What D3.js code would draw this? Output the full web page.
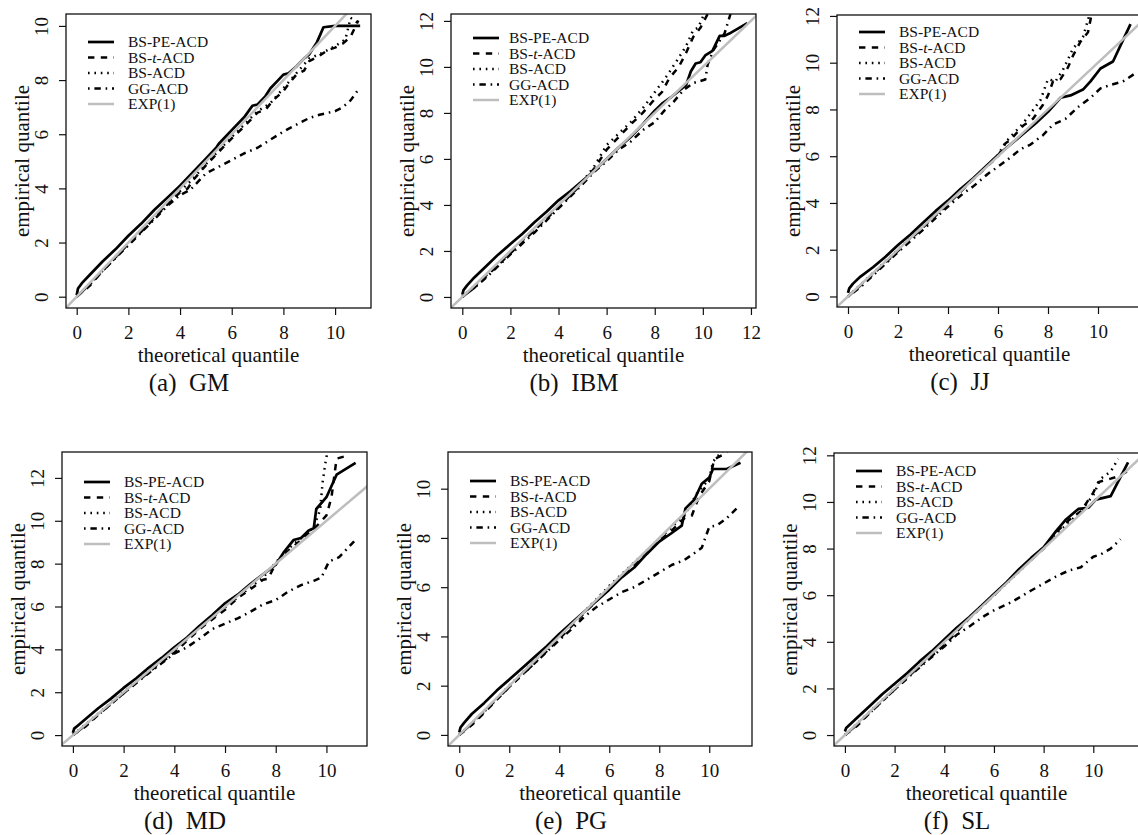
<!DOCTYPE html>
<html>
<head>
<meta charset="utf-8">
<script src="https://cdn.jsdelivr.net/npm/d3@7"></script>
<style>
  html, body { margin: 0; padding: 0; background: #fff; }
  svg text { font-family: "Liberation Serif", "Times New Roman", serif; fill: #111; }
</style>
</head>
<body>
<svg id="fig" width="1138" height="835"></svg>
<script>
// Series names shown in each legend
const seriesNames = ["BS-PE-ACD", "BS-t-ACD", "BS-ACD", "GG-ACD", "EXP(1)"];
const panelLetters = ["a", "b", "c", "d", "e", "f"];
const panelStocks = ["GM", "IBM", "JJ", "MD", "PG", "SL"];

// Tick values
const ticks10 = [0, 2, 4, 6, 8, 10];
const ticks12 = [0, 2, 4, 6, 8, 10, 12];

// QQ points: [theoretical quantile, empirical quantile]
// GM
const gmBSPE = [[0,0.05],[0.05,0.3],[0.2,0.5],[0.5,0.8],[1,1.3],[1.5,1.75],[2,2.25],[2.5,2.7],[3,3.2],[3.5,3.65],[4,4.1],[4.5,4.6],[5,5.1],[5.4,5.5],[5.5,5.65],[6,6.15],[6.5,6.65],[6.8,7.05],[7,7.1],[7.3,7.4],[7.5,7.7],[7.8,8.0],[8,8.2],[8.2,8.25],[8.5,8.5],[8.8,8.8],[9,8.95],[9.3,9.4],[9.55,9.95],[10,10.0],[10.5,10.0],[10.97,10.0]];
const gmBST = [[0,0],[0.5,0.4],[1,0.95],[1.5,1.45],[2,1.95],[2.5,2.4],[3,2.9],[3.5,3.4],[4,3.85],[4.3,4.0],[4.5,4.3],[5,4.85],[5.5,5.35],[6,5.85],[6.5,6.3],[7,6.8],[7.3,6.9],[7.6,7.25],[8,7.6],[8.2,7.85],[8.5,8.2],[8.8,8.35],[9,8.7],[9.4,8.9],[9.7,9.1],[10,9.2],[10.3,9.35],[10.6,9.6],[10.9,10.2]];
const gmBSA = [[0,0],[0.5,0.45],[1,0.95],[2,1.95],[3,2.95],[4,3.9],[4.5,4.35],[5,4.9],[6,5.9],[7,6.85],[7.5,7.15],[8,7.7],[8.5,8.25],[9,8.8],[9.5,9.0],[10,9.25],[10.4,9.5],[10.6,10.3],[10.9,10.1]];
const gmGG = [[0,0],[0.5,0.45],[1,0.95],[2,1.9],[3,2.85],[3.5,3.35],[4,3.75],[4.4,3.95],[5,4.55],[5.5,4.8],[6,5.05],[6.5,5.3],[7,5.5],[7.5,5.8],[8,6.1],[8.3,6.25],[8.7,6.45],[9,6.6],[9.4,6.72],[10,6.85],[10.3,7.0],[10.6,7.25],[10.9,7.65]];
// IBM
const ibmBSPE = [[0,0.1],[0.05,0.3],[0.2,0.5],[0.5,0.85],[1,1.35],[1.5,1.85],[2,2.3],[2.5,2.75],[3,3.25],[3.5,3.7],[4,4.2],[4.5,4.6],[5,5.05],[5.5,5.5],[6,6.0],[6.5,6.5],[7,6.95],[7.5,7.5],[8,8.1],[8.3,8.4],[8.7,8.7],[9,8.95],[9.3,9.2],[9.5,9.8],[9.7,10.15],[9.9,10.2],[10.1,10.5],[10.4,10.7],[10.7,11.35],[10.9,11.35],[11.1,11.45],[11.85,11.9]];
const ibmBST = [[0,0],[0.5,0.4],[1,0.9],[2,1.9],[3,2.9],[4,3.9],[5,4.95],[5.5,5.6],[6,6.4],[6.5,6.95],[7,7.5],[7.5,8.0],[8,8.6],[8.3,8.9],[8.6,9.5],[9,10.0],[9.3,10.6],[9.6,11.3],[9.9,11.7],[10.2,12.3]];
const ibmBSA = [[0,0],[1,0.95],[2,1.95],[3,2.95],[4,3.95],[5,5.0],[5.5,5.7],[6,6.6],[6.5,7.1],[7,7.6],[7.5,8.2],[8,8.9],[8.5,9.6],[9,10.4],[9.3,10.9],[9.6,11.6],[9.8,11.7],[10.1,12.4]];
const ibmGG = [[0,0],[0.5,0.4],[1,0.85],[2,1.85],[3,2.8],[4,3.85],[5,4.9],[5.5,5.45],[6,5.9],[6.5,6.4],[7,6.75],[7.5,7.25],[8,7.6],[8.4,8.1],[8.8,8.5],[9.2,9.0],[9.6,9.3],[10.1,9.45],[10.2,10.1],[10.45,10.75],[10.9,11.45],[11.15,12.3]];
// JJ
const jjBSPE = [[0,0.15],[0.05,0.35],[0.2,0.55],[0.5,0.85],[1,1.25],[1.5,1.7],[2,2.2],[2.5,2.65],[3,3.15],[3.5,3.65],[4,4.1],[4.5,4.6],[5,5.05],[5.5,5.55],[6,6.05],[6.5,6.5],[7,6.95],[7.5,7.4],[8,7.9],[8.5,8.5],[8.9,8.6],[9.4,8.85],[9.7,9.2],[10.1,9.75],[10.6,10.05],[11.3,11.65]];
const jjBST = [[0,0],[1,0.95],[2,1.95],[3,2.95],[4,3.95],[5,5.0],[6,6.0],[6.3,6.55],[6.5,6.7],[7,7.3],[7.4,7.6],[7.8,8.2],[8.0,8.6],[8.2,9.2],[8.5,9.3],[8.8,9.8],[9.0,10.3],[9.3,10.9],[9.6,11.3],[9.75,12.1]];
const jjBSA = [[0,0],[1,1.0],[2,2.0],[3,3.0],[4,4.0],[5,5.0],[6,6.05],[6.3,6.6],[7,7.4],[7.7,8.4],[8.0,9.3],[8.3,9.2],[8.6,9.7],[9.0,10.6],[9.4,11.1],[9.7,12.2]];
const jjGG = [[0,0],[0.5,0.4],[1,0.9],[2,1.9],[3,2.85],[4,3.85],[4.6,4.4],[5,4.7],[5.6,5.25],[6,5.55],[6.5,5.95],[6.9,6.3],[7.3,6.5],[7.8,6.9],[8.2,7.35],[8.7,7.6],[9.2,8.1],[9.7,8.5],[10.1,8.9],[10.5,9.05],[11,9.2],[11.5,9.55]];
// MD
const mdBSPE = [[0,0.1],[0.05,0.3],[0.2,0.45],[0.5,0.75],[1,1.25],[1.5,1.7],[2,2.2],[2.5,2.65],[3,3.15],[3.5,3.6],[4,4.1],[4.5,4.55],[5,5.1],[5.5,5.6],[6,6.15],[6.5,6.55],[7,7.05],[7.5,7.5],[8,7.95],[8.3,8.5],[8.7,9.1],[9,9.2],[9.3,9.55],[9.5,9.65],[9.6,10.55],[10.0,11.1],[10.4,12.15],[11.15,12.7]];
const mdBST = [[0,0],[0.5,0.4],[1,0.95],[2,1.95],[3,2.95],[4,3.85],[5,4.95],[6,5.85],[6.5,6.4],[7,6.8],[7.5,7.25],[7.7,7.3],[8,8.0],[8.5,8.6],[9,9.1],[9.5,9.6],[10,10.25],[10.2,11.1],[10.3,12.0],[10.4,12.9],[10.7,13.0]];
const mdBSA = [[0,0],[1,1.0],[2,2.0],[3,3.0],[4,3.95],[5,5.0],[6,5.95],[7,6.9],[7.5,7.35],[8,8.05],[8.5,8.7],[9,9.2],[9.5,9.7],[9.75,10.5],[9.85,11.8],[9.96,12.7],[10.05,13.3]];
const mdGG = [[0,0],[0.5,0.45],[1,0.95],[2,1.95],[3,2.9],[4,3.8],[4.5,4.1],[5,4.5],[5.5,4.95],[6,5.2],[6.5,5.45],[7,5.75],[7.5,6.1],[8,6.3],[8.5,6.7],[9,7.0],[9.5,7.2],[9.8,7.35],[10.1,8.1],[10.5,8.3],[11.1,9.05]];
// PG
const pgBSPE = [[0,0.1],[0.05,0.3],[0.2,0.5],[0.5,0.85],[1,1.3],[1.5,1.8],[2,2.25],[2.5,2.7],[3,3.15],[3.5,3.6],[4,4.1],[4.5,4.55],[5,5.0],[5.5,5.45],[6,5.9],[6.5,6.4],[7,6.8],[7.5,7.35],[8,7.85],[8.5,8.2],[8.9,8.5],[9.05,9.2],[9.4,9.55],[9.7,10.2],[10.0,10.45],[10.15,10.8],[10.7,10.8],[11.25,11.05]];
const pgBST = [[0,0],[0.5,0.4],[1,0.9],[2,1.95],[3,2.9],[4,3.9],[5,4.95],[6,5.95],[7,6.9],[8,7.9],[8.5,8.3],[9,8.8],[9.3,8.9],[9.6,9.7],[10,10.3],[10.2,11.2],[10.6,11.4],[10.8,11.6]];
const pgBSA = [[0,0],[1,0.95],[2,2.0],[3,3.0],[4,4.0],[5,5.0],[6,6.05],[7,7.0],[8,7.95],[8.5,8.45],[9,8.9],[9.5,9.8],[10,10.4],[10.15,11.1],[10.5,11.5],[10.7,11.6]];
const pgGG = [[0,0],[0.5,0.45],[1,0.95],[2,1.95],[3,2.9],[4,3.85],[4.5,4.3],[5,4.8],[5.5,5.2],[6,5.5],[6.5,5.8],[7,6.0],[7.5,6.3],[8,6.6],[8.5,6.9],[9,7.1],[9.5,7.45],[9.7,7.6],[10.0,8.45],[10.3,8.5],[10.7,8.8],[11.2,9.3]];
// SL
const slBSPE = [[0,0.15],[0.05,0.3],[0.2,0.45],[0.5,0.75],[1,1.25],[1.5,1.75],[2,2.2],[2.5,2.65],[3,3.15],[3.5,3.6],[4,4.1],[4.5,4.6],[5,5.05],[5.5,5.55],[6,6.05],[6.5,6.55],[7,7.1],[7.5,7.6],[8,8.05],[8.5,8.75],[8.9,9.25],[9.4,9.7],[9.8,9.75],[10.1,10.1],[10.7,10.25],[11.4,11.7]];
const slBST = [[0,0],[0.5,0.4],[1,0.95],[2,1.95],[3,2.95],[4,3.85],[5,5.0],[6,6.0],[7,7.05],[8,8.0],[8.5,8.7],[9,9.2],[9.5,9.6],[10,10.4],[10.2,10.85],[10.7,11.0],[11.0,11.1],[11.35,11.3]];
const slBSA = [[0,0],[1,1.0],[2,2.0],[3,3.0],[4,4.0],[5,5.0],[6,6.0],[7,7.0],[8,8.05],[8.5,8.6],[9,9.1],[9.5,9.6],[10,10.3],[10.3,11.0],[10.7,11.3],[11.0,11.85]];
const slGG = [[0,0],[0.5,0.45],[1,0.95],[2,1.95],[3,2.9],[4,3.8],[4.5,4.3],[5,4.65],[5.6,5.1],[6,5.35],[6.7,5.7],[7.5,6.2],[8,6.5],[8.5,6.8],[9,7.05],[9.5,7.2],[10,7.65],[10.3,7.75],[10.7,8.0],[11.1,8.4]];

const panelSeries = [
  [gmBSPE, gmBST, gmBSA, gmGG],
  [ibmBSPE, ibmBST, ibmBSA, ibmGG],
  [jjBSPE, jjBST, jjBSA, jjGG],
  [mdBSPE, mdBST, mdBSA, mdGG],
  [pgBSPE, pgBST, pgBSA, pgGG],
  [slBSPE, slBST, slBSA, slGG]
];

// Panel geometry: plot box, axis limits, legend offset, caption centre
const layout = [
  { x: 66,  y: 14,  w: 305, h: 294, xd: [-0.414, 11.39], yd: [-0.417, 10.44], xt: ticks10, yt: ticks10, leg: 28, legText: 62, cap: 189 },
  { x: 451, y: 14,  w: 305, h: 294, xd: [-0.47, 12.21],  yd: [-0.48, 12.3],   xt: ticks12, yt: ticks12, leg: 24, legText: 58, cap: 574 },
  { x: 837, y: 15,  w: 305, h: 292, xd: [-0.44, 11.76],  yd: [-0.45, 12.04],  xt: ticks10, yt: ticks12, leg: 17, legText: 62, cap: 960 },
  { x: 62,  y: 452, w: 305, h: 294, xd: [-0.43, 11.6],   yd: [-0.51, 13.21],  xt: ticks10, yt: ticks12, leg: 30, legText: 62, cap: 185 },
  { x: 448, y: 452, w: 304, h: 294, xd: [-0.45, 11.71],  yd: [-0.45, 11.49],  xt: ticks10, yt: ticks10, leg: 29, legText: 62, cap: 571 },
  { x: 834, y: 453, w: 305, h: 293, xd: [-0.44, 11.84],  yd: [-0.47, 12.1],   xt: ticks10, yt: ticks12, leg: 18, legText: 62, cap: 957 }
];

const styles = [
  { stroke: "#000", width: 2.7, dash: null },
  { stroke: "#000", width: 2.5, dash: "6.4,6.4" },
  { stroke: "#000", width: 2.5, dash: "1.6,4.8" },
  { stroke: "#000", width: 2.5, dash: "1.6,4.8,6.4,4.8" },
  { stroke: "#bebebe", width: 2.5, dash: null }
];

const FONT = "Liberation Serif, Times New Roman, serif";
const TICK_SIZE = "19px";

const svg = d3.select("#fig");
const defs = svg.append("defs");

layout.forEach((L, p) => {
  const g = svg.append("g");
  const xs = d3.scaleLinear().domain(L.xd).range([L.x, L.x + L.w]);
  const ys = d3.scaleLinear().domain(L.yd).range([L.y + L.h, L.y]);
  const clipId = "clip" + p;
  defs.append("clipPath").attr("id", clipId)
    .append("rect").attr("x", L.x).attr("y", L.y).attr("width", L.w).attr("height", L.h);

  const line = d3.line().x(d => xs(d[0])).y(d => ys(d[1]));
  const plot = g.append("g").attr("clip-path", `url(#${clipId})`);

  panelSeries[p].forEach((pts, i) => {
    const s = styles[i];
    plot.append("path").datum(pts).attr("d", line)
      .attr("fill", "none").attr("stroke", s.stroke).attr("stroke-width", s.width)
      .attr("stroke-dasharray", s.dash).attr("stroke-linejoin", "round").attr("stroke-linecap", "butt");
  });

  // EXP(1) reference: the line y = x across the box
  const lo = Math.min(L.xd[0], L.yd[0]), hi = Math.max(L.xd[1], L.yd[1]);
  plot.append("path").datum([[lo, lo], [hi, hi]]).attr("d", line)
    .attr("fill", "none").attr("stroke", styles[4].stroke).attr("stroke-width", styles[4].width);

  // Box
  g.append("rect").attr("x", L.x).attr("y", L.y).attr("width", L.w).attr("height", L.h)
    .attr("fill", "none").attr("stroke", "#111").attr("stroke-width", 1.3);

  // x axis
  const xAxis = d3.axisBottom(xs).tickValues(L.xt).tickSize(7).tickFormat(d3.format("d"));
  const xg = g.append("g").attr("transform", `translate(0,${L.y + L.h})`).call(xAxis)
    .attr("font-size", null).attr("font-family", null);
  xg.select(".domain").remove();
  xg.selectAll(".tick line").attr("stroke", "#111").attr("stroke-width", 1.2);
  xg.selectAll(".tick text").attr("y", 31).attr("dy", null)
    .attr("font-size", TICK_SIZE).attr("font-family", FONT)
    .style("font-size", TICK_SIZE).style("font-family", FONT);

  // y axis (labels parallel to the axis)
  const yAxis = d3.axisLeft(ys).tickValues(L.yt).tickSize(7).tickFormat(d3.format("d"));
  const yg = g.append("g").attr("transform", `translate(${L.x},0)`).call(yAxis)
    .attr("font-size", null).attr("font-family", null);
  yg.select(".domain").remove();
  yg.selectAll(".tick line").attr("stroke", "#111").attr("stroke-width", 1.2);
  yg.selectAll(".tick text")
    .attr("x", null).attr("dy", null)
    .attr("text-anchor", "middle")
    .attr("transform", "translate(-18,0) rotate(-90)")
    .attr("font-size", TICK_SIZE).attr("font-family", FONT)
    .style("font-size", TICK_SIZE).style("font-family", FONT);

  // Axis titles
  g.append("text").attr("x", L.x + L.w / 2).attr("y", L.y + L.h + 54)
    .attr("text-anchor", "middle").style("font-size", "21px").text("theoretical quantile");
  g.append("text")
    .attr("transform", `translate(${L.x - 37},${L.y + L.h / 2}) rotate(-90)`)
    .attr("text-anchor", "middle").style("font-size", "21px").text("empirical quantile");

  // Caption
  g.append("text").attr("x", L.cap).attr("y", L.y + L.h + 83)
    .attr("text-anchor", "middle").style("font-size", "25px").style("white-space", "pre")
    .text(`(${panelLetters[p]})  ${panelStocks[p]}`);

  // Legend
  const lg = g.append("g").attr("transform", `translate(${L.x},${L.y + L.leg})`);
  seriesNames.forEach((name, i) => {
    const yy = i * 15.5;
    const s = styles[i];
    lg.append("line").attr("x1", 22).attr("x2", 48).attr("y1", yy).attr("y2", yy)
      .attr("stroke", s.stroke).attr("stroke-width", s.width).attr("stroke-dasharray", s.dash);
    const t = lg.append("text").attr("x", L.legText).attr("y", yy + 5.3).style("font-size", "15.5px");
    if (name === "BS-t-ACD") {
      t.append("tspan").text("BS-");
      t.append("tspan").style("font-style", "italic").text("t");
      t.append("tspan").text("-ACD");
    } else {
      t.text(name);
    }
  });
});
</script>
</body>
</html>
